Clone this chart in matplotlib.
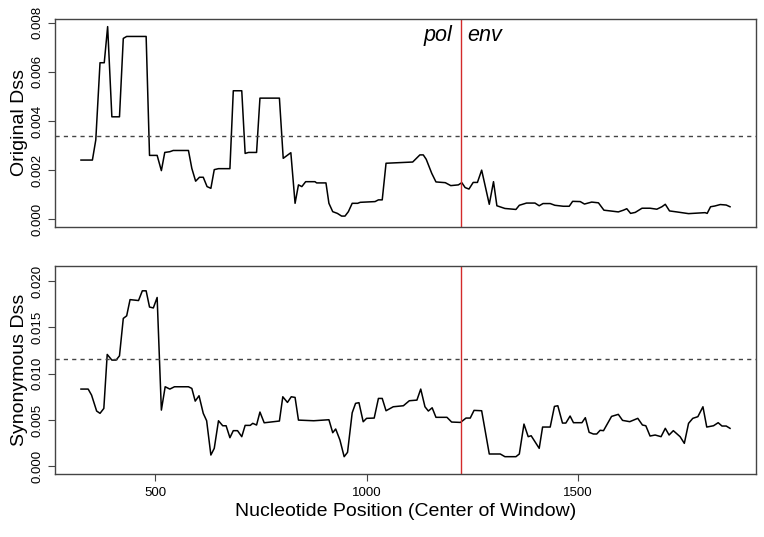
import matplotlib
matplotlib.use("Agg")
import matplotlib.pyplot as plt
import numpy as np

plt.rcParams['font.family'] = ['Liberation Sans', 'DejaVu Sans']

# original Dss (top panel), window centres and values
orig_pos = [325, 352, 360, 370, 380, 388, 398, 416, 425, 433, 479, 487, 505, 515, 523, 535,
            543, 579, 587, 596, 605, 614, 623, 632, 640, 650, 677, 685, 705, 713, 721, 740,
            748, 794, 803, 821, 831, 839, 847, 856, 878, 882, 904, 911, 920, 931, 941, 949,
            957, 966, 979, 985, 1020, 1028, 1037, 1046, 1109, 1126, 1134, 1141, 1154, 1164,
            1186, 1199, 1217, 1225, 1233, 1242, 1252, 1262, 1272, 1290, 1300, 1308, 1327,
            1353, 1361, 1378, 1398, 1408, 1417, 1434, 1445, 1465, 1479, 1487, 1505, 1515,
            1532, 1548, 1561, 1576, 1595, 1607, 1615, 1624, 1635, 1651, 1670, 1686, 1698,
            1706, 1716, 1733, 1761, 1800, 1805, 1813, 1823, 1836, 1850, 1859]
orig_dss = [2.41, 2.41, 3.23, 6.37, 6.37, 7.84, 4.17, 4.17, 7.36, 7.44, 7.44, 2.60, 2.60, 1.98,
            2.72, 2.75, 2.80, 2.80, 2.07, 1.55, 1.71, 1.71, 1.33, 1.26, 2.02, 2.06, 2.06, 5.23,
            5.23, 2.68, 2.72, 2.72, 4.93, 4.93, 2.48, 2.71, 0.65, 1.40, 1.33, 1.53, 1.53, 1.48,
            1.48, 0.65, 0.31, 0.24, 0.13, 0.13, 0.31, 0.65, 0.65, 0.69, 0.72, 0.79, 0.79, 2.28,
            2.33, 2.62, 2.62, 2.44, 1.87, 1.52, 1.49, 1.37, 1.40, 1.49, 1.29, 1.23, 1.50, 1.50,
            2.00, 0.61, 1.53, 0.55, 0.44, 0.40, 0.57, 0.66, 0.66, 0.55, 0.64, 0.64, 0.57, 0.53,
            0.53, 0.73, 0.72, 0.62, 0.70, 0.67, 0.37, 0.34, 0.30, 0.37, 0.43, 0.24, 0.28, 0.45,
            0.45, 0.41, 0.51, 0.61, 0.34, 0.30, 0.23, 0.27, 0.24, 0.51, 0.54, 0.60, 0.58, 0.51]

# synonymous Dss (bottom panel)
syn_pos = [325, 342, 350, 362, 370, 379, 387, 398, 408, 416, 425, 433, 441, 461, 470, 479, 487,
           496, 505, 515, 524, 535, 546, 579, 587, 595, 604, 614, 622, 632, 640, 650, 660, 668,
           677, 685, 695, 705, 713, 725, 731, 740, 748, 758, 794, 802, 813, 822, 831, 839, 875,
           911, 920, 927, 937, 947, 955, 966, 974, 982, 992, 1000, 1018, 1028, 1037, 1046, 1063,
           1087, 1101, 1119, 1128, 1138, 1146, 1155, 1164, 1190, 1201, 1222, 1235, 1245, 1254,
           1272, 1290, 1316, 1327, 1353, 1361, 1372, 1382, 1389, 1408, 1416, 1434, 1444, 1452,
           1463, 1471, 1481, 1489, 1509, 1517, 1526, 1536, 1544, 1552, 1560, 1579, 1595, 1605,
           1622, 1641, 1652, 1660, 1670, 1682, 1696, 1706, 1715, 1725, 1741, 1751, 1761, 1771,
           1783, 1795, 1804, 1820, 1831, 1840, 1850, 1859]
syn_dss = [8.34, 8.34, 7.69, 5.97, 5.72, 6.25, 12.08, 11.47, 11.47, 11.93, 15.97, 16.25, 18.00,
           17.90, 18.95, 18.95, 17.20, 17.10, 18.23, 6.07, 8.59, 8.34, 8.59, 8.59, 8.41, 7.04,
           7.62, 5.72, 4.92, 1.22, 1.94, 4.92, 4.38, 4.38, 3.09, 3.85, 3.85, 3.20, 4.42, 4.42,
           4.64, 4.46, 5.86, 4.70, 4.89, 7.51, 6.90, 7.51, 7.44, 4.99, 4.92, 5.03, 3.63, 4.03,
           2.84, 1.04, 1.51, 5.78, 6.80, 6.87, 4.81, 5.18, 5.21, 7.33, 7.33, 6.00, 6.43, 6.54,
           7.08, 7.15, 8.34, 6.43, 5.97, 6.32, 5.29, 5.29, 4.78, 4.74, 5.21, 5.21, 6.04, 6.00,
           1.33, 1.33, 1.04, 1.04, 1.33, 4.56, 3.20, 3.30, 1.94, 4.24, 4.24, 6.47, 6.54, 4.67,
           4.67, 5.43, 4.71, 4.71, 5.25, 3.67, 3.49, 3.49, 3.89, 3.85, 5.39, 5.61, 4.96, 4.82,
           5.18, 4.46, 4.38, 3.27, 3.38, 3.20, 4.10, 3.38, 3.85, 3.20, 2.48, 4.64, 5.18, 5.36,
           6.43, 4.24, 4.38, 4.71, 4.35, 4.35, 4.10]

orig_cut = 0.00339
syn_cut = 0.01154
boundary = 1222

frame_col = '#444444'

fig = plt.figure(figsize=(7.64, 5.37), dpi=100)
ax1 = fig.add_axes([55 / 764, 1 - 227 / 537, 701 / 764, 208 / 537])
ax2 = fig.add_axes([55 / 764, 1 - 474 / 537, 701 / 764, 208 / 537])

panels = [
    (ax1, orig_pos, orig_dss, orig_cut, (-0.000314, 0.00815), [0, 0.002, 0.004, 0.006, 0.008],
     "Original Dss"),
    (ax2, syn_pos, syn_dss, syn_cut, (-0.00083, 0.02163), [0, 0.005, 0.01, 0.015, 0.02],
     "Synonymous Dss"),
]

for ax, pos, vals, cut, ylim, yt, lab in panels:
    ax.plot(pos, np.array(vals) / 1000.0, color='black', lw=1.1)
    ax.axhline(cut, color=frame_col, lw=1, linestyle=(0, (3, 3)))
    ax.axvline(boundary, color='#d42a2a', lw=1)
    ax.set_xlim(263.6, 1920.4)
    ax.set_ylim(*ylim)
    ax.set_yticks(yt)
    ax.set_yticklabels(["%.3f" % v for v in yt], rotation=90, va='center', fontsize=9.5)
    ax.set_ylabel(lab, fontsize=14, labelpad=3)
    for s in ax.spines.values():
        s.set_color(frame_col)
        s.set_linewidth(1)
    ax.tick_params(axis='y', direction='out', length=5, color=frame_col, pad=3)

ax1.tick_params(axis='x', bottom=False, labelbottom=False)
ax2.set_xticks([500, 1000, 1500])
ax2.set_xticklabels(["500", "1000", "1500"], fontsize=9.5)
ax2.tick_params(axis='x', direction='out', length=5, color=frame_col, pad=4)
ax2.set_xlabel("Nucleotide Position (Center of Window)", fontsize=14, labelpad=3)

ax1.annotate("pol", xy=(boundary, 0.92), xycoords=('data', 'axes fraction'),
             xytext=(-6, 0), textcoords='offset points', ha='right', va='center',
             fontsize=15.5, style='italic')
ax1.annotate("env", xy=(boundary, 0.92), xycoords=('data', 'axes fraction'),
             xytext=(5, 0), textcoords='offset points', ha='left', va='center',
             fontsize=15.5, style='italic')

plt.savefig("out.png", dpi=100)
